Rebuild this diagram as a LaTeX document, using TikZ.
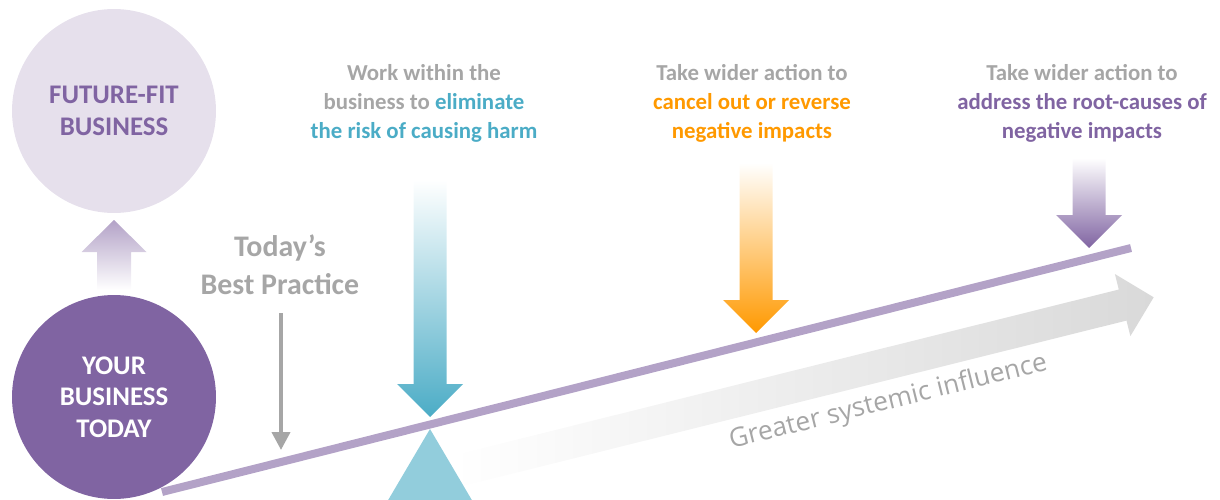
\documentclass[tikz,border=0pt]{standalone}
\usepackage{fontspec}
\setmainfont{Carlito}
\newfontfamily\bandfont{Open Sans}
\usetikzlibrary{arrows.meta,calc}

\definecolor{ffpurple}{HTML}{8064A2}
\definecolor{fflight}{HTML}{E6E0EC}
\definecolor{fflever}{HTML}{B3A2C7}
\definecolor{ffblue}{HTML}{4BACC6}
\definecolor{fffulcrum}{HTML}{92CDDC}
\definecolor{fforange}{HTML}{FF9900}
\definecolor{ffgrey}{HTML}{A6A6A6}
\definecolor{ffband}{HTML}{D9D9D9}

% shaded block arrow pointing down: x, top y, tip y, colour
\newcommand{\fallarrow}[4]{%
  \shade[top color=white, bottom color=#4]
    (#1-16.5,#2) -- (#1+16.5,#2) -- (#1+16.5,#3-33) -- (#1+33,#3-33)
    -- (#1,#3) -- (#1-33,#3-33) -- (#1-16.5,#3-33) -- cycle;}

\begin{document}
\begin{tikzpicture}[x=0.02cm, y=-0.02cm]

\tikzstyle{bizcircle} = [circle, minimum size=4.08cm, inner sep=0pt, align=center, font=\bfseries\fontsize{15.3}{18}\selectfont]
\tikzstyle{toptext} = [align=center, inner sep=0pt, text=ffgrey, font=\bfseries\fontsize{13}{16.5}\selectfont]
\tikzstyle{bigtext} = [align=center, inner sep=0pt, text=ffgrey, font=\bfseries\fontsize{17}{21.6}\selectfont]
\tikzstyle{bandtext} = [inner sep=0pt, text=ffgrey, font=\bandfont\fontsize{15}{17}\selectfont]
\tikzstyle{lever} = [line width=0.16cm, draw=fflever]
\tikzstyle{thinarrow} = [line width=0.08cm, draw=ffgrey, -{Triangle[width=0.36cm, length=0.36cm]}]

\useasboundingbox (0,0) rectangle (1220,500);

%% -----------------
%% -- GREY BAND --
%% -----------------
\begin{scope}[shift={(457,471)}, rotate=14]
  \shade[left color=white, right color=ffband]
    (0,-16) -- (686,-16) -- (686,-32) -- (718,0) -- (686,32) -- (686,16) -- (0,16) -- cycle;
\end{scope}
\node (influence) [bandtext, rotate=14, anchor=base] at (890,409) {Greater systemic influence};

%% -----------------
%% -- LEVER --
%% -----------------
\coordinate (lever_start) at (162,492);
\coordinate (lever_end) at (1131,248);
\draw [lever] (lever_start) -- (lever_end);

% fulcrum
\fill [fffulcrum] (430,429) -- (473,502) -- (387,502) -- cycle;

% arrows onto the lever
\fallarrow{430}{180}{417}{ffblue}
\fallarrow{756}{163}{333}{fforange}
\fallarrow{1089}{158}{248}{ffpurple}

%% -----------------
%% -- BUSINESSES --
%% -----------------
\node (future) [bizcircle, fill=fflight, text=ffpurple] at (114,111) {FUTURE-FIT\\BUSINESS};
\node (today) [bizcircle, fill=ffpurple, text=white] at (114,397) {YOUR\\BUSINESS\\TODAY};

% upward arrow
\shade [top color=fflever, bottom color=white]
  (97,290) -- (97,252) -- (81.5,252) -- (114,220) -- (146.5,252) -- (131,252) -- (131,290) -- cycle;

%% -----------------
%% -- TEXTS --
%% -----------------
\node (practice) [bigtext] at (280,265) {Today’s\\Best Practice};
\coordinate (practice_tip) at (281,450);
\draw [thinarrow] ($(practice.south)+(1,18)$) -- (practice_tip);

\node (within) [toptext] at (424,103) {Work within the\\business to \textcolor{ffblue}{eliminate}\\\textcolor{ffblue}{the risk of causing harm}};
\node (cancel) [toptext] at (752,103) {Take wider action to\\\textcolor{fforange}{cancel out or reverse}\\\textcolor{fforange}{negative impacts}};
\node (rootcause) [toptext] at (1082,103) {Take wider action to\\\textcolor{ffpurple}{address the root-causes of}\\\textcolor{ffpurple}{negative impacts}};

\end{tikzpicture}
\end{document}
